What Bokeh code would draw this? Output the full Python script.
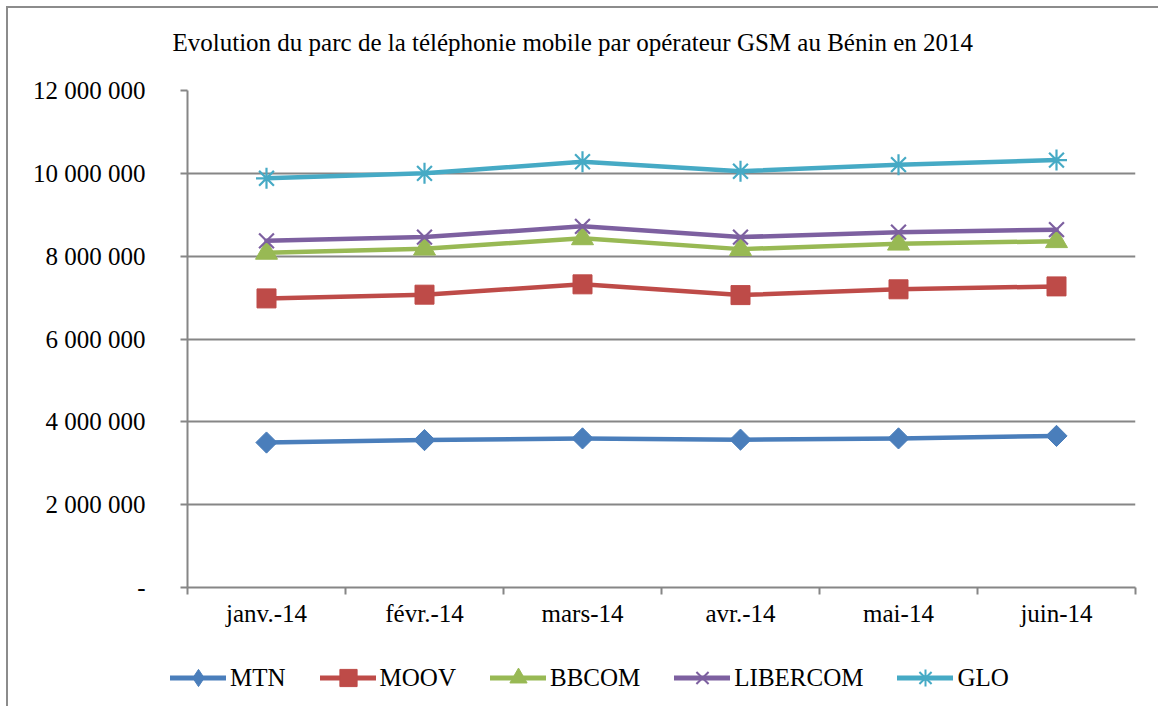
from bokeh.plotting import figure
from bokeh.models import FixedTicker, Legend, LegendItem, Label
from bokeh.layouts import column
from bokeh.embed import file_html
from bokeh.resources import INLINE

months = ["janv.-14", "févr.-14", "mars-14", "avr.-14", "mai-14", "juin-14"]
mtn = [3500000, 3560000, 3600000, 3570000, 3600000, 3660000]
moov = [6980000, 7070000, 7320000, 7060000, 7200000, 7270000]
bbcom = [8080000, 8180000, 8430000, 8170000, 8300000, 8360000]
libercom = [8370000, 8460000, 8720000, 8460000, 8580000, 8640000]
glo = [9880000, 10000000, 10280000, 10050000, 10210000, 10320000]
series_names = ["MTN", "MOOV", "BBCOM", "LIBERCOM", "GLO"]
series_values = [mtn, moov, bbcom, libercom, glo]
colors = ["#4A7EBB", "#BE4B48", "#98B954", "#7D60A0", "#46AAC5"]
markers = ["diamond", "square", "triangle", "x", "asterisk"]
y_ticks = [0, 2000000, 4000000, 6000000, 8000000, 10000000, 12000000]
y_labels = ["-", "2 000 000", "4 000 000", "6 000 000", "8 000 000", "10 000 000", "12 000 000"]
title_text = "Evolution du parc de la téléphonie mobile par opérateur GSM au Bénin en 2014"

FONT = "Liberation Serif"
FS = "25px"
GRID = "#868686"
N = len(months)
YMAX = 12000000
W = 1150

xs = [i + 0.5 for i in range(N)]


def strip(height):
    f = figure(width=W, height=height, output_backend="svg", toolbar_location=None,
               x_range=(0, N), y_range=(0, YMAX), x_axis_type=None, y_axis_type=None,
               min_border=0)
    f.title = None
    f.outline_line_color = None
    f.background_fill_color = "white"
    f.border_fill_color = "white"
    f.frame_align = False
    return f


# ---------------- title strip ----------------
pt = strip(60)
pt.add_layout(Label(x=164, y=26, x_units="screen", y_units="screen", text=title_text,
                    text_font=FONT, text_font_size=FS, text_color="black",
                    text_baseline="middle", text_align="left"))

# ---------------- main chart ----------------
p = figure(width=W, height=569, output_backend="svg", toolbar_location=None,
           x_range=(0, N), y_range=(0, YMAX),
           min_border_left=179, min_border_right=23, min_border_top=22, min_border_bottom=50)
p.title = None
p.outline_line_color = None
p.background_fill_color = "white"
p.border_fill_color = "white"

p.xgrid.visible = False
p.ygrid.ticker = FixedTicker(ticks=y_ticks)
p.ygrid.grid_line_color = GRID
p.ygrid.grid_line_width = 2

p.yaxis.ticker = FixedTicker(ticks=y_ticks)
p.yaxis.major_label_overrides = {v: l for v, l in zip(y_ticks, y_labels)}
p.yaxis.axis_line_color = GRID
p.yaxis.axis_line_width = 2
p.yaxis.major_tick_line_color = GRID
p.yaxis.major_tick_line_width = 2
p.yaxis.major_tick_out = 7
p.yaxis.major_tick_in = 0
p.yaxis.minor_tick_line_color = None
p.yaxis.major_label_text_font = FONT
p.yaxis.major_label_text_font_size = FS
p.yaxis.major_label_text_color = "black"
p.yaxis.major_label_standoff = 35

p.xaxis.ticker = FixedTicker(ticks=xs, minor_ticks=list(range(N + 1)))
p.xaxis.major_label_overrides = {x: m for x, m in zip(xs, months)}
p.xaxis.axis_line_color = GRID
p.xaxis.axis_line_width = 2
p.xaxis.major_tick_line_color = None
p.xaxis.minor_tick_line_color = GRID
p.xaxis.minor_tick_line_width = 2
p.xaxis.minor_tick_out = 7
p.xaxis.minor_tick_in = 0
p.xaxis.major_label_text_font = FONT
p.xaxis.major_label_text_font_size = FS
p.xaxis.major_label_text_color = "black"
p.xaxis.major_label_standoff = 5

for vals, c, m in zip(series_values, colors, markers):
    p.line(xs, vals, line_color=c, line_width=4.5, line_cap="round", line_join="round")
    if m in ("x", "asterisk"):
        p.scatter(xs, vals, marker=m, size=21, line_color=c, line_width=2.2, fill_color=None)
    elif m == "diamond":
        p.scatter(xs, vals, marker="square", angle=0.7854, size=15, line_color=c, fill_color=c, line_width=1)
    else:
        sz = {"square": 19, "triangle": 22}[m]
        p.scatter(xs, vals, marker=m, size=sz, line_color=c, fill_color=c, line_width=1)

# ---------------- legend strip ----------------
pl = strip(69)
items = []
for name, vals, c, m in zip(series_names, series_values, colors, markers):
    ln = pl.line(xs, vals, line_color=c, line_width=5, line_cap="round", visible=False)
    if m in ("x", "asterisk"):
        sc = pl.scatter(xs, vals, marker=m, size=17, line_color=c, line_width=2, fill_color=None, visible=False)
    else:
        sc = pl.scatter(xs, vals, marker=m, size=17, line_color=c, fill_color=c, line_width=1, visible=False)
    items.append(LegendItem(label=name, renderers=[ln, sc]))

legend = Legend(items=items, orientation="horizontal", location=(162, 7),
                label_text_font=FONT, label_text_font_size=FS, label_text_color="black",
                glyph_width=56, glyph_height=43, label_height=25, label_standoff=4, spacing=34,
                border_line_color=None, background_fill_alpha=0, padding=0, margin=0)
pl.add_layout(legend, "center")

layout = column(pt, p, pl, spacing=0,
                styles={"margin-left": "6px", "margin-top": "6px",
                        "border-left": "2px solid #8c8c8c", "border-top": "2px solid #8c8c8c"})

open("out.html", "w").write(file_html(layout, INLINE))
